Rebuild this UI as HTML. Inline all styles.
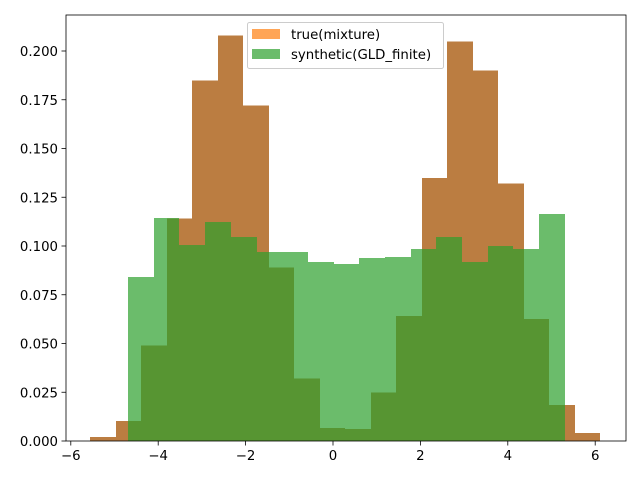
<!DOCTYPE html>
<html><head><meta charset="utf-8"><style>
body{margin:0;background:#fff;}
svg text{font-family:"DejaVu Sans","Liberation Sans",sans-serif;font-size:13.3px;fill:#000;}
</style></head><body>
<svg id="chart" width="640" height="480">
<rect x="0" y="0" width="640" height="480" fill="#fff"/>
<g id="bars" shape-rendering="crispEdges"></g>
<g id="axes"></g>
</svg>
<script>
const trueStart = -5.56, trueWidth = 0.5835;
const trueValues = [0.002,0.0103,0.049,0.114,0.185,0.208,0.172,0.089,0.032,0.0067,0.0062,0.025,0.064,0.135,0.205,0.190,0.132,0.0626,0.0185,0.004];
const synthStart = -4.69, synthWidth = 0.588;
const synthValues = [0.084,0.1144,0.1005,0.1123,0.1046,0.097,0.097,0.0918,0.0908,0.0938,0.0943,0.0985,0.1046,0.0918,0.1000,0.0985,0.1164];
const xTicks = [-6,-4,-2,0,2,4,6];
const yTicks = [0,0.025,0.05,0.075,0.1,0.125,0.15,0.175,0.2];
const yTickLabels = ["0.000","0.025","0.050","0.075","0.100","0.125","0.150","0.175","0.200"];

const L=66,R=626,T=15,B=441;
const sx = v => 333 + v*43.7;
const sy = v => B - v*1950;
const NS="http://www.w3.org/2000/svg";
const bars=document.getElementById('bars'), axes=document.getElementById('axes');
function mk(tag,attrs,parent){const e=document.createElementNS(NS,tag);for(const k in attrs)e.setAttribute(k,attrs[k]);parent.appendChild(e);return e;}

trueValues.forEach((v,i)=>{
  const x0=Math.round(sx(trueStart+i*trueWidth)), x1=Math.round(sx(trueStart+(i+1)*trueWidth));
  const r=mk('rect',{x:x0,y:sy(v),width:x1-x0,height:B-sy(v),fill:'#bb7d41'},bars);
  
  
});
synthValues.forEach((v,i)=>{
  const x0=Math.round(sx(synthStart+i*synthWidth)), x1=Math.round(sx(synthStart+(i+1)*synthWidth));
  const r=mk('rect',{x:x0,y:sy(v),width:x1-x0,height:B-sy(v),fill:'#2ca02c','fill-opacity':0.7},bars);
  
  
});
const frame=mk('rect',{x:L,y:T,width:R-L,height:B-T,fill:'none',stroke:'#000','stroke-width':0.8},axes);


xTicks.forEach(t=>{
  const x=sx(t);
  mk('line',{x1:x,x2:x,y1:B,y2:B+4.5,stroke:'#000','stroke-width':0.8},axes);
  const tx=mk('text',{x:x,y:B+19,'text-anchor':'middle'},axes);
  tx.textContent=(t<0?'\u2212'+(-t):String(t));
  
  
});
yTicks.forEach((t,i)=>{
  const y=sy(t);
  mk('line',{x1:L-4.5,x2:L,y1:y,y2:y,stroke:'#000','stroke-width':0.8},axes);
  const tx=mk('text',{x:L-8,y:y+5,'text-anchor':'end'},axes);
  tx.textContent=yTickLabels[i];
  
  
});
const lg=mk('g',{},axes);


mk('rect',{x:247.5,y:22.5,width:196,height:46,rx:2,fill:'#fff','fill-opacity':0.8,stroke:'#ccc'},lg);
mk('rect',{x:252,y:29,width:28,height:10,fill:'#ffa556'},lg);
mk('rect',{x:252,y:49,width:28,height:10,fill:'#6bbc6b'},lg);
const l1=mk('text',{x:291,y:39},lg); l1.textContent='true(mixture)';


const l2=mk('text',{x:291,y:59},lg); l2.textContent='synthetic(GLD_finite)';


</script>
</body></html>
